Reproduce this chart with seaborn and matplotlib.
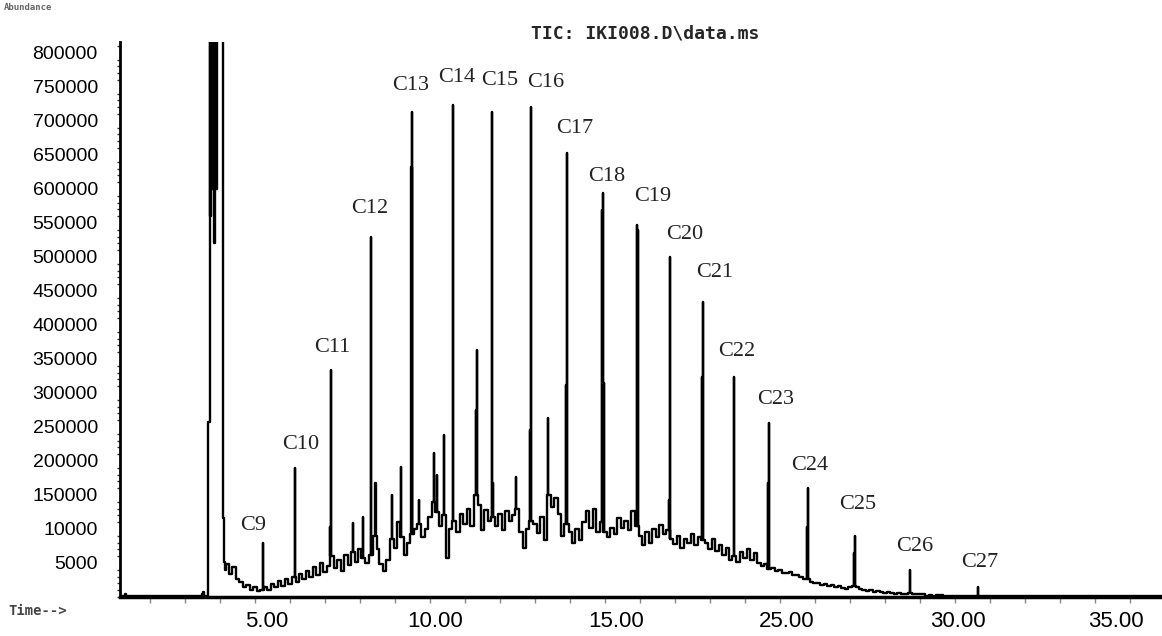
import matplotlib.pyplot as plt
import matplotlib.ticker as mticker
import numpy as np
import pandas as pd
import seaborn as sns


# retention time in minutes, abundance in thousands of counts
PEAK_LABELS = ["C9", "C10", "C11", "C12", "C13", "C14", "C15", "C16", "C17", "C18",
               "C19", "C20", "C21", "C22", "C23", "C24", "C25", "C26", "C27"]
PEAK_TIME = [6.23, 7.14, 8.17, 9.31, 10.49, 11.66, 12.77, 13.89, 14.91, 15.94,
             16.91, 17.86, 18.80, 19.69, 20.69, 21.80, 23.14, 24.71, 26.66]
PEAK_HEIGHT = [79, 190, 334, 529, 713, 724, 713, 721, 653, 594,
               547, 500, 434, 324, 256, 160, 90, 40, 15]

# unlabelled peaks and shoulders
MINOR_TIME = [8.14, 8.80, 9.09, 9.44, 9.91, 10.17, 10.47, 10.69, 11.11, 11.20,
              11.40, 12.31, 12.34, 12.80, 13.46, 13.86, 14.37, 14.88, 15.91, 15.97,
              16.95, 17.83, 18.77, 20.66, 21.77, 23.11]
MINOR_HEIGHT = [103, 109, 118, 168, 150, 191, 632, 143, 212, 180,
                238, 275, 363, 168, 176, 246, 263, 312, 569, 315,
                540, 143, 323, 168, 103, 65]

EARLY_TIME = [2.16, 2.26, 2.29, 2.33, 2.40, 3.0, 3.5, 4.0, 4.45, 4.50, 4.53, 4.56, 4.60]
EARLY_K = [2, 2, 5, 2, 1.5, 1.5, 1.5, 1.5, 1.5, 4, 8, 2, 2]

SOLVENT_TIME = [4.650, 4.655, 4.700, 4.705, 4.735, 4.765, 4.795, 4.825, 4.855,
                4.885, 4.915, 4.940, 5.090, 5.095, 5.110, 5.115, 5.140, 5.170]
SOLVENT_K = [2, 257, 257, 900, 560, 900, 600, 900, 520,
             900, 600, 900, 900, 116, 116, 55, 52, 40]

# baseline sampled every 0.1 min starting at 5.2 min
BASE_START = 5.2
BASE_STEP = 0.1
BASELINE = [
    48, 34, 44, 26, 22, 15, 18, 11, 14, 9,
    10, 14, 11, 19, 14, 23, 16, 26, 19, 30,
    22, 34, 26, 38, 29, 44, 33, 50, 37, 46,
    60, 42, 55, 38, 62, 47, 66, 52, 70, 58,
    50, 62, 90, 70, 48, 38, 55, 85, 72, 110,
    88, 62, 80, 92, 100, 108, 88, 100, 118, 140,
    125, 105, 120, 58, 100, 112, 96, 122, 108, 130,
    104, 150, 135, 98, 128, 112, 118, 104, 122, 98,
    126, 112, 120, 130, 95, 72, 100, 112, 108, 94,
    118, 84, 150, 132, 146, 122, 90, 108, 95, 80,
    100, 84, 110, 126, 102, 130, 96, 110, 96, 88,
    102, 92, 116, 102, 112, 98, 126, 104, 90, 76,
    95, 80, 100, 88, 106, 92, 98, 86, 78, 90,
    72, 86, 80, 93, 76, 88, 84, 80, 70, 86,
    68, 76, 62, 72, 55, 60, 52, 66, 58, 70,
    54, 64, 50, 46, 48, 41, 42, 38, 40, 36,
    35, 37, 33, 32, 29, 27, 26, 22, 20, 21,
    18, 19, 16, 18, 14, 16, 13, 12, 14, 16,
    14, 12, 11, 9, 10, 8, 9, 7, 6, 8,
    6, 5, 6, 5, 5, 6, 4, 5, 4, 4,
    2, 3, 1, 3, 3, 1, 2, 2, 2, 2,
    2, 2, 2, 2, 2, 2, 2, 2, 2, 2,
]
TAIL_TIME = [28.0, 29.0, 30.0, 31.0, 31.95]
TAIL_K = [1.5, 1.5, 1.5, 1.5, 1.5]

X_TICK_LABELS = ["5.00", "10.00", "15.00", "25.00", "30.00", "35.00"]
Y_TICK_LABELS = ["5000", "10000", "150000", "200000", "250000", "300000", "350000",
                 "400000", "450000", "500000", "550000", "600000", "650000",
                 "700000", "750000", "800000"]

# layout
X_TICK_POS = [6.33, 11.15, 16.31, 21.2, 26.09, 30.6]
LABEL_OFFSETS = [(-10, 18), (6, 23), (1, 22), (-1, 29), (-2, 27), (4, 27), (8, 32),
                 (15, 24), (8, 24), (4, 16), (16, 28), (15, 22), (12, 29), (3, 25),
                 (6, 23), (2, 23), (3, 31), (5, 23), (2, 24)]


def build_trace():
    base_t = BASE_START + BASE_STEP * np.arange(len(BASELINE))
    base_v = np.array(BASELINE, dtype=float)
    pts = list(zip(EARLY_TIME, EARLY_K)) + list(zip(SOLVENT_TIME, SOLVENT_K))
    pts += list(zip(base_t, base_v)) + list(zip(TAIL_TIME, TAIL_K))
    for t, h in zip(PEAK_TIME + MINOR_TIME, PEAK_HEIGHT + MINOR_HEIGHT):
        b = base_v[np.abs(base_t - t).argmin()]
        pts += [(t - 0.012, b), (t, h), (t + 0.012, b)]
    df = pd.DataFrame(pts, columns=["time", "abundance"])
    df = df.sort_values("time", kind="stable").reset_index(drop=True)
    df["abundance"] *= 1000
    return df


def main():
    sns.set_theme(style="white")
    plt.rcParams["font.family"] = ["Liberation Sans", "DejaVu Sans"]

    fig = plt.figure(figsize=(11.62, 6.36), dpi=100)
    ax = fig.add_axes([120 / 1162, 39 / 636, 1042 / 1162, 555 / 636])

    trace = build_trace()
    sns.lineplot(data=trace, x="time", y="abundance", estimator=None, sort=False,
                 color="black", linewidth=1.7, drawstyle="steps-mid", ax=ax)

    ax.set_xlim(2.143, 31.914)
    ax.set_ylim(0, 816000)
    ax.set_xlabel("")
    ax.set_ylabel("")

    for side in ["top", "right"]:
        ax.spines[side].set_visible(False)
    ax.spines["left"].set_linewidth(2)
    ax.spines["bottom"].set_linewidth(2.5)
    ax.spines["left"].set_color("black")
    ax.spines["bottom"].set_color("black")

    ax.xaxis.set_major_locator(mticker.FixedLocator(X_TICK_POS))
    ax.set_xticklabels(X_TICK_LABELS)
    ax.xaxis.set_minor_locator(mticker.MultipleLocator(1))
    ax.yaxis.set_major_locator(mticker.FixedLocator(np.arange(50000, 800001, 50000)))
    ax.set_yticklabels(Y_TICK_LABELS)
    ax.yaxis.set_minor_locator(mticker.MultipleLocator(10000))

    ax.tick_params(axis="x", which="major", length=0, pad=10, labelsize=16, colors="black")
    ax.tick_params(axis="y", which="major", length=0, pad=16, labelsize=14, colors="black")
    ax.tick_params(axis="x", which="minor", bottom=True, length=4, width=1, color="#888888",
                   direction="out")
    ax.tick_params(axis="y", which="minor", left=True, length=2.5, width=1, color="#333333",
                   direction="out")

    for label, t, h, (dx, dy) in zip(PEAK_LABELS, PEAK_TIME, PEAK_HEIGHT, LABEL_OFFSETS):
        ax.annotate(label, xy=(t, h * 1000), xytext=(dx, dy), textcoords="offset pixels",
                    ha="center", va="center", fontsize=16, color="#222222",
                    family="Liberation Serif", annotation_clip=False)

    fig.text(645 / 1162, 1 - 33 / 636, "TIC: IKI008.D\\data.ms", ha="center", va="center",
             family="DejaVu Sans Mono", weight="bold", fontsize=13)
    fig.text(4 / 1162, 1 - 7 / 636, "Abundance", ha="left", va="center",
             family="DejaVu Sans Mono", weight="bold", fontsize=6.5, color="#666666")
    fig.text(8 / 1162, 1 - 611 / 636, "Time-->", ha="left", va="center",
             family="DejaVu Sans Mono", weight="bold", fontsize=10, color="#444444")

    fig.savefig("out.png", dpi=100)
    plt.close(fig)


if __name__ == "__main__":
    main()
